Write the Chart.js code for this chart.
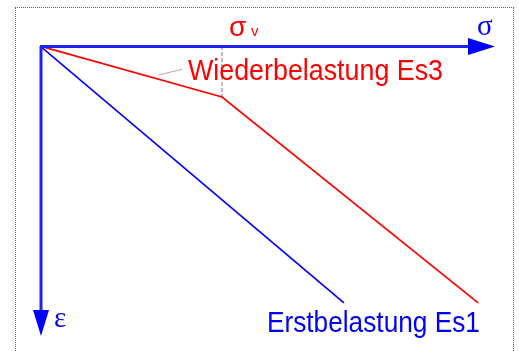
<!DOCTYPE html>
<html>
<head>
<meta charset="utf-8">
<script src="https://cdn.jsdelivr.net/npm/chart.js@4/dist/chart.umd.min.js"></script>
<style>
  html, body { margin: 0; padding: 0; background: #fff; overflow: hidden; }
  #frame { position: absolute; left: 15px; top: 7px; width: 497px; height: 360px; border: 1px dotted #666; }
  #c { position: absolute; left: 0; top: 0; }
</style>
</head>
<body>
<div id="frame"></div>
<canvas id="c" width="519" height="351"></canvas>
<script>
// stress (sigma) vs strain (epsilon), arbitrary units
var sigmaV = 4.0;
var es1Sigma = [0, 6.68];
var es1Eps = [0, 8.86];
var es3Sigma = [0, 4.0, 9.63];
var es3Eps = [0, 1.76, 8.86];
var labels = ['Erstbelastung Es1', 'Wiederbelastung Es3'];

function pts(xs, ys) {
  return xs.map(function (x, i) { return { x: x, y: ys[i] }; });
}

var BLUE = '#0000ff';
var RED = '#ff0000';

// fits text into a given width by squeezing it horizontally
function squeezed(ctx, text, x, y, font, width) {
  ctx.save();
  ctx.font = font;
  var w = ctx.measureText(text).width;
  ctx.translate(x, y);
  ctx.scale(width / w, 1);
  ctx.fillText(text, 0, 0);
  ctx.restore();
}

var decor = {
  id: 'decor',
  afterDatasetsDraw: function (chart) {
    var ctx = chart.ctx;
    var xs = chart.scales.x, ys = chart.scales.y;
    var ox = xs.getPixelForValue(0), oy = ys.getPixelForValue(0);
    var right = chart.chartArea.right, bottom = chart.chartArea.bottom;
    ctx.save();
    // axes with arrows
    ctx.strokeStyle = '#2020ff';
    ctx.fillStyle = '#0000ff';
    ctx.lineWidth = 3;
    ctx.beginPath();
    ctx.moveTo(ox, oy + 0.5);
    ctx.lineTo(right - 26, oy + 0.5);
    ctx.moveTo(ox + 1, oy);
    ctx.lineTo(ox + 1, bottom - 24);
    ctx.stroke();
    ctx.beginPath();
    ctx.moveTo(right - 27, oy - 8);
    ctx.lineTo(right, oy + 0.5);
    ctx.lineTo(right - 27, oy + 9);
    ctx.closePath();
    ctx.fill();
    ctx.beginPath();
    ctx.moveTo(ox - 7, bottom - 26);
    ctx.lineTo(ox + 1, bottom);
    ctx.lineTo(ox + 9, bottom - 26);
    ctx.closePath();
    ctx.fill();

    // axis symbols
    ctx.fillStyle = BLUE;
    ctx.font = '29px "Liberation Serif"';
    ctx.fillText('\u03c3', right - 18, oy - 11);
    ctx.fillText('\u03b5', ox + 14, bottom - 9);

    // sigma_v
    var vx = xs.getPixelForValue(sigmaV);
    ctx.fillStyle = RED;
    ctx.font = '28px "Liberation Sans"';
    ctx.fillText('\u03c3', vx + 7, oy - 10);
    ctx.font = '15px "Liberation Sans"';
    ctx.fillText('v', vx + 29, oy - 10);

    // leader line for Es3
    var kx = xs.getPixelForValue(es3Sigma[1]), ky = ys.getPixelForValue(es3Eps[1]);
    var ax = ox + (kx - ox) * 0.65, ay = oy + (ky - oy) * 0.65 - 4;
    ctx.strokeStyle = '#aaaaaa';
    ctx.lineWidth = 1;
    ctx.beginPath();
    ctx.moveTo(ax, ay);
    ctx.lineTo(ax + 24, ay - 6);
    ctx.stroke();

    // curve labels
    ctx.fillStyle = RED;
    squeezed(ctx, labels[1], kx - 34, oy + 34, '29px "Liberation Sans"', 255);
    ctx.fillStyle = BLUE;
    squeezed(ctx, labels[0], xs.getPixelForValue(es1Sigma[1]) - 77, bottom - 4, '30px "Liberation Sans"', 213);
    ctx.restore();
  }
};

new Chart(document.getElementById('c'), {
  type: 'scatter',
  data: {
    datasets: [
      {
        label: labels[0],
        data: pts(es1Sigma, es1Eps),
        showLine: true,
        borderColor: BLUE,
        borderWidth: 1.7,
        pointRadius: 0
      },
      {
        label: labels[1],
        data: pts(es3Sigma, es3Eps),
        showLine: true,
        borderColor: RED,
        borderWidth: 1.7,
        pointRadius: 0
      },
      {
        label: 'sigma v',
        data: [{ x: sigmaV, y: 0 }, { x: sigmaV, y: es3Eps[1] }],
        showLine: true,
        borderColor: '#777777',
        borderWidth: 1,
        borderDash: [4, 2],
        pointRadius: 0
      }
    ]
  },
  options: {
    responsive: false,
    animation: false,
    layout: { padding: { left: 40, right: 24, top: 46, bottom: 15 } },
    plugins: { legend: { display: false }, tooltip: { enabled: false } },
    scales: {
      x: { type: 'linear', min: 0, max: 10, display: false },
      y: { type: 'linear', min: 0, max: 10, reverse: true, display: false }
    }
  },
  plugins: [decor]
});
</script>
</body>
</html>
